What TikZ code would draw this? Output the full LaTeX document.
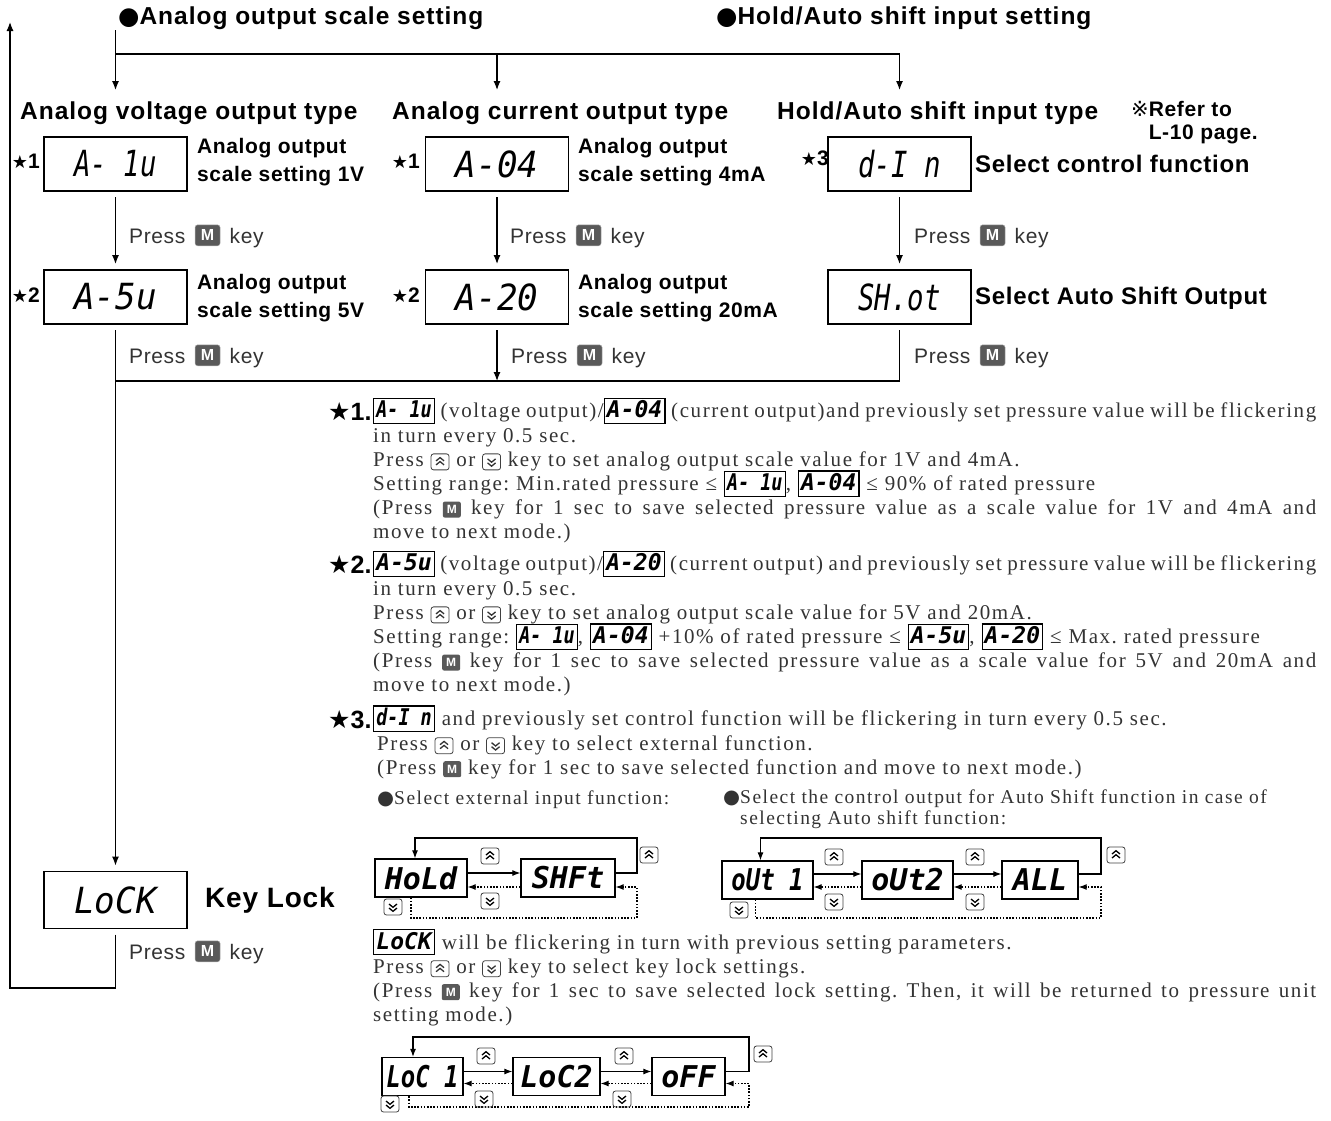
\documentclass[tikz,border=0pt]{standalone}
\usepackage{fontspec}
\usepackage{graphicx}
\usetikzlibrary{arrows.meta}
\setmainfont{Liberation Serif}[LetterSpace=7.5]
\setsansfont{Liberation Sans}
\newfontfamily\headfont{Liberation Sans}[LetterSpace=4]
\newfontfamily\labfont{Liberation Sans}[LetterSpace=3]
\newfontfamily\symfont{DejaVu Sans}
\newfontfamily\segfont{DejaVu Sans Mono}
\setlength\parindent{0pt}
\frenchspacing

% display digits
\newcommand\bigseg[2][0.95]{{\fontsize{36}{36}\segfont\itshape\scalebox{#1}[1]{#2}}}
\newcommand\smallseg[2][1]{{\fontsize{30}{30}\segfont\bfseries\itshape\scalebox{#1}[1]{#2}}}
\newcommand\seg[2][1]{\smash{\color{black}\setlength\fboxsep{2pt}\setlength\fboxrule{1.2pt}\fbox{\rule[-3pt]{0pt}{19pt}\fontsize{23}{23}\segfont\bfseries\itshape\scalebox{#1}[1]{#2}}}}

% keys
\newcommand\upk{\tikz[baseline=0pt]{\draw[line width=0.8pt,black!75,rounded corners=2.5pt] (0pt,-3.5pt) rectangle (18pt,12.5pt);
  \draw[line width=1.3pt] (5pt,1.5pt)--(9pt,4.8pt)--(13pt,1.5pt) (5pt,5.5pt)--(9pt,8.8pt)--(13pt,5.5pt);}}
\newcommand\dnk{\tikz[baseline=0pt]{\draw[line width=0.8pt,black!75,rounded corners=2.5pt] (0pt,-3.5pt) rectangle (18pt,12.5pt);
  \draw[line width=1.3pt] (5pt,7.5pt)--(9pt,4.2pt)--(13pt,7.5pt) (5pt,3.5pt)--(9pt,0.2pt)--(13pt,3.5pt);}}
\newcommand\mk{\tikz[baseline=0pt]{\node[fill=black!65,rounded corners=2pt,inner sep=0pt,minimum width=18pt,minimum height=16pt,text=white,font={\sffamily\bfseries\fontsize{12}{12}\selectfont},anchor=south] at (0pt,-3pt) {M};}}
\newcommand\mkb{\tikz[baseline=0pt]{\node[fill=black!65,draw=black!30,rounded corners=2.5pt,inner sep=0pt,minimum width=25pt,minimum height=21pt,text=white,font={\sffamily\bfseries\fontsize{16}{16}\selectfont},anchor=south] at (0pt,-3pt) {M};}}

\newcommand\headfs{\headfont\bfseries\fontsize{24.5}{28}\selectfont}
\newcommand\labfs{\labfont\bfseries\fontsize{21}{28}\selectfont}
\newcommand\pressfs{\labfont\fontsize{21}{24}\selectfont}
\newcommand\notefs{\rmfamily\fontsize{21}{24.2}\selectfont}
\newcommand\stars[1]{{\symfont\mdseries\fontsize{18}{18}\selectfont ★}#1}

\begin{document}
\begin{tikzpicture}[x=1pt,y=-1pt,
    disp/.style={draw,line width=1.4pt,minimum width=143pt,minimum height=54pt,inner sep=0pt,outer ysep=6pt},
    sdisp/.style={draw,line width=1.3pt,minimum height=38pt,inner sep=0pt},
    flow/.style={line width=1.2pt,-{Latex[length=9pt,width=7pt]}},
    sflow/.style={line width=1.1pt,-{Latex[length=8pt,width=6pt]}},
    dflow/.style={sflow,dash pattern=on 1.6pt off 1.6pt},
    head/.style={anchor=west,inner sep=0pt,font=\headfs},
    lab/.style={anchor=west,inner sep=0pt,align=left,font=\labfs},
    biglab/.style={lab,font={\labfont\bfseries\fontsize{24}{28}\selectfont}},
    press/.style={anchor=west,inner sep=0pt,text=black!80,font=\pressfs},
    star/.style={anchor=east,inner sep=0pt,font=\labfs},
    num/.style={anchor=west,inner sep=0pt,font={\sffamily\bfseries\fontsize{25}{25}\selectfont}},
    note/.style={anchor=north west,inner sep=0pt,text width=943pt,align=justify,text=black!80,font=\notefs},
    key/.style={inner sep=0pt}]
\useasboundingbox (0,0) rectangle (1331,1120);

% headings
\node[head] (ttl1) at (118,18) {{\symfont\mdseries ●}Analog output scale setting};
\node[head] (ttl2) at (716,18) {{\symfont\mdseries ●}Hold/Auto shift input setting};
\node[head] (hd1) at (20,113) {Analog voltage output type};
\node[head] (hd2) at (392,113) {Analog current output type};
\node[head] (hd3) at (777,113) {Hold/Auto shift input type};
\node[lab,anchor=north west,font={\labfont\bfseries\fontsize{21}{23}\selectfont}] (refer) at (1131,101)
  {{\symfont\mdseries ※}Refer to\\\phantom{\symfont\mdseries ※}L-10 page.};

% displays
\node[disp] (a1u) at (115.5,164) {\bigseg[0.76]{A- 1u}};
\node[disp] (a04) at (497,164) {\bigseg{A-04}};
\node[disp] (din) at (899.5,164) {\bigseg[0.76]{d-I n}};
\node[disp] (a5u) at (115.5,297) {\bigseg{A-5u}};
\node[disp] (a20) at (497,297) {\bigseg{A-20}};
\node[disp] (shot) at (899.5,297) {\bigseg[0.76]{SH.ot}};
\node[disp,minimum height=57pt] (lock) at (115.5,900) {\bigseg{LoCK}};

\node[star] (st11) at (40,161) {\stars{1}};
\node[star] (st12) at (420,161) {\stars{1}};
\node[star] (st3) at (829,158) {\stars{3}};
\node[star] (st21) at (40,295) {\stars{2}};
\node[star] (st22) at (420,295) {\stars{2}};

\node[lab] (l1u) at (197,162) {Analog output\\scale setting 1V};
\node[lab] (l04) at (578,162) {Analog output\\scale setting 4mA};
\node[biglab] (ldin) at (975,164) {Select control function};
\node[lab] (l5u) at (197,298) {Analog output\\scale setting 5V};
\node[lab] (l20) at (578,298) {Analog output\\scale setting 20mA};
\node[biglab] (lshot) at (975,298) {Select Auto Shift Output};
\node[lab,font={\labfont\bfseries\fontsize{28}{30}\selectfont}] (llock) at (205,900) {Key Lock};

\node[press] (p1) at (129,236) {Press\hspace{3pt} \mkb{} \hspace{3pt}key};
\node[press] (p2) at (510,236) {Press\hspace{3pt} \mkb{} \hspace{3pt}key};
\node[press] (p3) at (914,236) {Press\hspace{3pt} \mkb{} \hspace{3pt}key};
\node[press] (p4) at (129,356) {Press\hspace{3pt} \mkb{} \hspace{3pt}key};
\node[press] (p5) at (511,356) {Press\hspace{3pt} \mkb{} \hspace{3pt}key};
\node[press] (p6) at (914,356) {Press\hspace{3pt} \mkb{} \hspace{3pt}key};
\node[press] (p7) at (129,952) {Press\hspace{3pt} \mkb{} \hspace{3pt}key};

% flow
\coordinate (top) at (115.5,30);
\coordinate (split) at (115.5,54);
\coordinate (in1) at (115.5,90);
\coordinate (in2) at (497,90);
\coordinate (in3) at (899.5,90);
\coordinate (merge) at (115.5,381);
\coordinate (ret) at (10,988);
\coordinate (back) at (10,22);
\draw[flow] (top) -- (in1);
\draw[flow] (split) -| (in2);
\draw[flow] (split) -| (in3);
\draw[flow] (a1u) -- (a5u);
\draw[flow] (a04) -- (a20);
\draw[flow] (din) -- (shot);
\draw[flow] (a5u) -- (lock);
\draw[flow] (a20) -- (a20 |- merge);
\draw[line width=1.2pt] (shot) |- (merge);
\draw[flow] (lock) |- (ret) -- (back);

% notes
\node[num] (n1) at (328,412) {{\symfont\mdseries ★}1.};
\node[note] (nt1) at (373,403) {\seg[0.8]{A- 1u} (voltage output)/\seg{A-04} (current output)and previously set pressure value will be flickering\linebreak
  in turn every 0.5 sec.\par
  Press \upk{} or \dnk{} key to set analog output scale value for 1V and 4mA.\par
  Setting range: Min.rated pressure ≤ \seg[0.8]{A- 1u}, \seg{A-04} ≤ 90\% of rated pressure\par
  (Press \mk{} key for 1 sec to save selected pressure value as a scale value for 1V and 4mA and\linebreak
  move to next mode.)};
\node[num] (n2) at (328,565) {{\symfont\mdseries ★}2.};
\node[note] (nt2) at (373,556) {\seg{A-5u} (voltage output)/\seg{A-20} (current output) and previously set pressure value will be flickering\linebreak
  in turn every 0.5 sec.\par
  Press \upk{} or \dnk{} key to set analog output scale value for 5V and 20mA.\par
  Setting range: \seg[0.8]{A- 1u}, \seg{A-04} +10\% of rated pressure ≤ \seg{A-5u}, \seg{A-20} ≤ Max. rated pressure\par
  (Press \mk{} key for 1 sec to save selected pressure value as a scale value for 5V and 20mA and\linebreak
  move to next mode.)};
\node[num] (n3) at (328,720) {{\symfont\mdseries ★}3.};
\node[note] (nt3) at (373,711) {\seg[0.8]{d-I n} and previously set control function will be flickering in turn every 0.5 sec.\par
  \hspace*{4pt}Press \upk{} or \dnk{} key to select external function.\par
  \hspace*{4pt}(Press \mk{} key for 1 sec to save selected function and move to next mode.)};
\node[anchor=west,inner sep=0pt,text=black!80,font={\rmfamily\fontsize{19.5}{21}\selectfont}] (sel1) at (377,800) {{\symfont ●}Select external input function:};
\node[anchor=north west,inner sep=0pt,align=left,text=black!80,font={\rmfamily\fontsize{19.5}{21}\selectfont}] (sel2) at (723,790)
  {{\symfont ●}Select the control output for Auto Shift function in case of\\\phantom{\symfont ●}selecting Auto shift function:};
\node[note] (ntl) at (373,934) {\seg{LoCK} will be flickering in turn with previous setting parameters.\par
  Press \upk{} or \dnk{} key to select key lock settings.\par
  (Press \mk{} key for 1 sec to save selected lock setting. Then, it will be returned to pressure unit\linebreak
  setting mode.)};

% hold / shift
\node[sdisp,minimum width=92pt] (hold) at (421,878) {\smallseg{HoLd}};
\node[sdisp,minimum width=94pt] (shft) at (568,878) {\smallseg{SHFt}};
\coordinate (htop) at (637,838);
\coordinate (hbot) at (637,918);
\draw[sflow] ([yshift=5pt]hold.east) -- ([yshift=5pt]shft.west);
\draw[dflow] ([yshift=-9pt]shft.west) -- ([yshift=-9pt]hold.east);
\draw[sflow] ([yshift=5pt]shft.east) -| (htop) -| ([xshift=-6pt]hold.north);
\draw[dflow] ([xshift=-10pt]hold.south) |- (hbot) |- ([yshift=-9pt]shft.east);
\node[key] (hk1) at (490,856) {\upk};
\node[key] (hk2) at (490,901) {\dnk};
\node[key] (hk3) at (649,855) {\upk};
\node[key] (hk4) at (393,907) {\dnk};

% outputs
\node[sdisp,minimum width=91pt] (out1) at (767.5,880) {\smallseg[0.8]{oUt 1}};
\node[sdisp,minimum width=91pt] (out2) at (907.5,880) {\smallseg{oUt2}};
\node[sdisp,minimum width=76pt] (all) at (1040,880) {\smallseg{ALL}};
\coordinate (otop) at (1101,838);
\coordinate (obot) at (1101,918);
\draw[sflow] ([yshift=6pt]out1.east) -- ([yshift=6pt]out2.west);
\draw[dflow] ([yshift=-7pt]out2.west) -- ([yshift=-7pt]out1.east);
\draw[sflow] ([yshift=6pt]out2.east) -- ([yshift=6pt]all.west);
\draw[dflow] ([yshift=-7pt]all.west) -- ([yshift=-7pt]out2.east);
\draw[sflow] ([yshift=6pt]all.east) -| (otop) -| ([xshift=-7pt]out1.north);
\draw[dflow] ([xshift=-12pt]out1.south) |- (obot) |- ([yshift=-7pt]all.east);
\node[key] (ok1) at (834,857) {\upk};
\node[key] (ok2) at (834,902) {\dnk};
\node[key] (ok3) at (975,857) {\upk};
\node[key] (ok4) at (975,902) {\dnk};
\node[key] (ok5) at (1116,855) {\upk};
\node[key] (ok6) at (739,910) {\dnk};

% lock settings
\node[sdisp,minimum width=81pt] (loc1) at (422.5,1076.5) {\smallseg[0.8]{LoC 1}};
\node[sdisp,minimum width=87pt] (loc2) at (556.5,1076.5) {\smallseg{LoC2}};
\node[sdisp,minimum width=73pt] (off) at (688.5,1076.5) {\smallseg{oFF}};
\coordinate (ltop) at (749,1037);
\coordinate (lbot) at (749,1107);
\draw[sflow] ([yshift=5pt]loc1.east) -- ([yshift=5pt]loc2.west);
\draw[dflow] ([yshift=-7pt]loc2.west) -- ([yshift=-7pt]loc1.east);
\draw[sflow] ([yshift=5pt]loc2.east) -- ([yshift=5pt]off.west);
\draw[dflow] ([yshift=-7pt]off.west) -- ([yshift=-7pt]loc2.east);
\draw[sflow] ([yshift=5pt]off.east) -| (ltop) -| ([xshift=-9.5pt]loc1.north);
\draw[dflow] ([xshift=-13.5pt]loc1.south) |- (lbot) |- ([yshift=-7pt]off.east);
\node[key] (lk1) at (486,1056) {\upk};
\node[key] (lk2) at (484,1099) {\dnk};
\node[key] (lk3) at (624,1056) {\upk};
\node[key] (lk4) at (622,1099) {\dnk};
\node[key] (lk5) at (763,1054) {\upk};
\node[key] (lk6) at (390,1104) {\dnk};
\end{tikzpicture}
\end{document}
